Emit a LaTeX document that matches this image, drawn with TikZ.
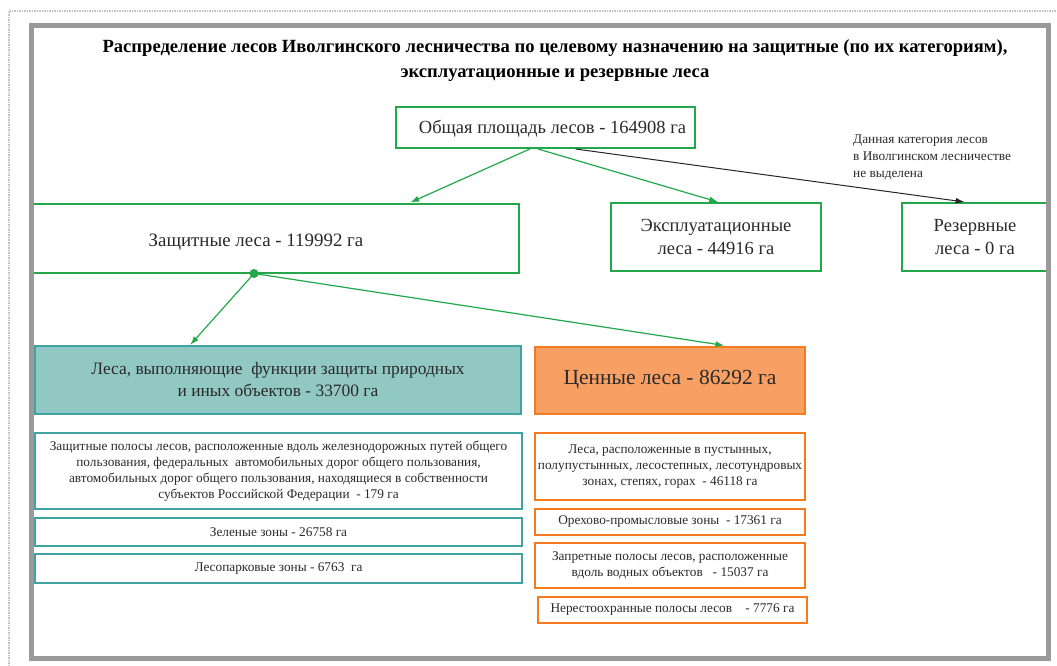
\documentclass[tikz,border=0pt]{standalone}
\usepackage{fontspec}
\setmainfont{Liberation Serif}
\usetikzlibrary{arrows.meta,calc}
\definecolor{grn}{HTML}{22A84A}
\definecolor{tealb}{HTML}{3FA3A3}
\definecolor{tealf}{HTML}{92C8C3}
\definecolor{orb}{HTML}{F47B20}
\definecolor{orf}{HTML}{F8A064}
\definecolor{frame}{HTML}{9A9A9A}
\definecolor{txt}{HTML}{2A2A2A}
\tikzset{
  gbox/.style={draw=grn, line width=2pt, inner sep=0pt, align=center, text=txt, font=\fontsize{18.5}{23}\selectfont},
  thead/.style={draw=tealb, fill=tealf, line width=2pt, inner sep=0pt, align=center, text=txt, font=\fontsize{17.4}{22}\selectfont},
  ohead/.style={draw=orb, fill=orf, line width=2pt, inner sep=0pt, align=center, text=txt, font=\fontsize{21.5}{27}\selectfont},
  tsub/.style={draw=tealb, line width=2pt, inner sep=0pt, align=center, text=txt, font=\fontsize{13.3}{16}\selectfont},
  osub/.style={draw=orb, line width=2pt, inner sep=0pt, align=center, text=txt, font=\fontsize{13.3}{16}\selectfont},
  garrow/.style={draw=grn, line width=1.2pt, -{Latex[length=9pt,width=6pt]}},
  karrow/.style={draw=black!85, line width=1pt, -{Latex[length=9pt,width=6pt]}},
}
\begin{document}
\begin{tikzpicture}[x=1pt,y=-1pt]
\useasboundingbox (0,0) rectangle (1057,666);
\fill[white] (0,0) rectangle (1057,666);
% outer thin dotted line
\draw[frame!60, line width=1.5pt, densely dotted] (9,666) -- (9,11) -- (1057,11);

% title
\node[font=\bfseries\fontsize{18.6}{25}\selectfont, align=center] (title) at (555,61)
  {Распределение лесов Иволгинского лесничества по целевому назначению на защитные (по их категориям),\\
   эксплуатационные и резервные леса};

% level 1
\node[gbox, minimum width=299pt, minimum height=41pt] (total) at (545.5,127.5) {};
\node[font=\fontsize{18.5}{23}\selectfont, text=txt] (totalT) at ($(total.center)+(7,1)$) {Общая площадь лесов - 164908 га};

% level 2
\node[gbox, minimum width=486pt, minimum height=69pt] (zasch) at (276,238) {};
\node[font=\fontsize{18.9}{23}\selectfont, text=txt] (zaschT) at ($(zasch.center)+(-20,4)$) {Защитные леса - 119992 га};
\node[gbox, minimum width=210pt, minimum height=68pt] (expl) at (716,237) {Эксплуатационные\\леса - 44916 га};
\node[gbox, minimum width=146pt, minimum height=68pt] (rez) at (975,237) {Резервные\\леса - 0 га};

\node[font=\fontsize{13.3}{17}\selectfont, align=left, anchor=north west, inner sep=0pt, text=txt] (note) at (853,135)
  {Данная категория лесов\\в Иволгинском лесничестве\\не выделена};

% level 3
\node[thead, minimum width=486pt, minimum height=68pt] (funk) at (278,380) {Леса, выполняющие\ \ функции защиты природных\\и иных объектов - 33700 га};
\node[ohead, minimum width=270pt, minimum height=67pt] (cen) at (670,380) {Ценные леса - 86292 га};

% left sub-boxes
\node[tsub, minimum width=487pt, minimum height=76pt] (l1) at (278.5,471)
  {Защитные полосы лесов, расположенные вдоль железнодорожных путей общего\\
   пользования, федеральных\ \ автомобильных дорог общего пользования,\\
   автомобильных дорог общего пользования, находящиеся в собственности\\
   субъектов Российской Федерации\ \ - 179 га};
\node[tsub, minimum width=487pt, minimum height=28pt] (l2) at (278.5,532) {Зеленые зоны - 26758 га};
\node[tsub, minimum width=487pt, minimum height=29pt] (l3) at (278.5,568.5) {Лесопарковые зоны - 6763\ \ га};

% right sub-boxes
\node[osub, minimum width=270pt, minimum height=67pt] (r1) at (670,466.5)
  {Леса, расположенные в пустынных,\\полупустынных, лесостепных, лесотундровых\\зонах, степях, горах\ \ - 46118 га};
\node[osub, minimum width=270pt, minimum height=26pt] (r2) at (670,522) {Орехово-промысловые зоны\ \ - 17361 га};
\node[osub, minimum width=270pt, minimum height=45pt] (r3) at (670,565.5)
  {Запретные полосы лесов, расположенные\\вдоль водных объектов\ \ \ - 15037 га};
\node[osub, minimum width=269pt, minimum height=26pt] (r4) at (672.5,610) {Нерестоохранные полосы лесов\ \ \ \ - 7776 га};

% connectors
\coordinate (sg1) at ($(total.south west)!0.448!(total.south east)$);
\coordinate (sg2) at ($(total.south west)!0.475!(total.south east)$);
\coordinate (sk) at ($(total.south west)!0.60!(total.south east)$);
\draw[garrow] (sg1) -- ($(zasch.north west)!0.775!(zasch.north east)$);
\draw[garrow] (sg2) -- ($(expl.north west)!0.51!(expl.north east)$);
\draw[karrow] (sk) -- ($(rez.north west)!0.43!(rez.north east)$);
\coordinate (dot) at ($(zasch.south west)!0.455!(zasch.south east)$);
\fill[grn] (dot) circle (4.5pt);
\draw[garrow] (dot) -- ($(funk.north west)!0.32!(funk.north east)$);
\draw[garrow] (dot) -- ($(cen.north west)!0.7!(cen.north east)$);

% frame
\draw[frame, line width=5pt] (31.5,25.5) rectangle (1048,658.5);
\end{tikzpicture}
\end{document}
